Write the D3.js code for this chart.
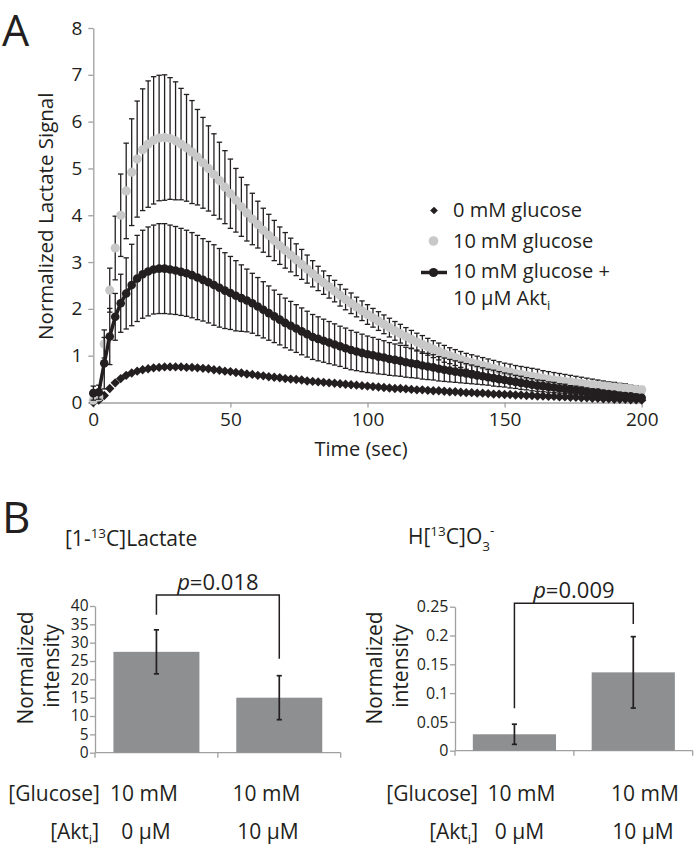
<!DOCTYPE html>
<html><head><meta charset="utf-8">
<script src="https://cdn.jsdelivr.net/npm/d3@7"></script>
<style>
body{margin:0;background:#fff}
svg{display:block}
text{font-family:'Open Sans',sans-serif;fill:#231f20}
</style>
</head><body>
<svg id="c" width="694" height="851"></svg>
<script>
// ---------- DATA: panel A ----------
const times = [0,2,4,6,8,10,12,14,16,18,20,22,24,26,28,30,32,34,36,38,40,42,44,46,48,50,52,54,56,58,60,62,64,66,68,70,72,74,76,78,80,82,84,86,88,90,92,94,96,98,100,102,104,106,108,110,112,114,116,118,120,122,124,126,128,130,132,134,136,138,140,142,144,146,148,150,152,154,156,158,160,162,164,166,168,170,172,174,176,178,180,182,184,186,188,190,192,194,196,198,200];
const glucose0 = [0.00,0.05,0.15,0.30,0.42,0.51,0.58,0.63,0.67,0.70,
 0.72,0.74,0.75,0.76,0.76,0.76,0.76,0.75,0.75,0.74,
 0.73,0.72,0.70,0.69,0.67,0.66,0.64,0.63,0.61,0.60,
 0.58,0.57,0.55,0.54,0.53,0.51,0.50,0.49,0.48,0.46,
 0.45,0.44,0.43,0.42,0.41,0.40,0.39,0.38,0.37,0.36,
 0.35,0.34,0.33,0.32,0.31,0.30,0.30,0.29,0.28,0.27,
 0.27,0.26,0.25,0.25,0.24,0.23,0.23,0.22,0.21,0.21,
 0.20,0.20,0.19,0.18,0.18,0.17,0.17,0.16,0.16,0.15,
 0.15,0.14,0.14,0.13,0.13,0.12,0.12,0.11,0.11,0.10,
 0.10,0.09,0.09,0.08,0.08,0.07,0.07,0.07,0.06,0.06,
 0.05];
const glucose10 = [0.05,0.12,1.25,2.40,3.30,4.00,4.52,4.92,5.20,5.40,
 5.52,5.60,5.65,5.66,5.64,5.59,5.52,5.44,5.35,5.24,
 5.12,5.00,4.87,4.74,4.60,4.46,4.32,4.18,4.05,3.92,
 3.80,3.68,3.57,3.46,3.35,3.25,3.15,3.05,2.95,2.85,
 2.75,2.65,2.56,2.47,2.38,2.29,2.20,2.12,2.04,1.96,
 1.88,1.81,1.74,1.67,1.60,1.53,1.47,1.41,1.35,1.29,
 1.24,1.19,1.14,1.09,1.04,1.00,0.96,0.92,0.88,0.85,
 0.82,0.79,0.76,0.73,0.70,0.67,0.65,0.62,0.60,0.58,
 0.56,0.54,0.52,0.50,0.48,0.47,0.45,0.44,0.42,0.41,
 0.39,0.38,0.36,0.35,0.34,0.33,0.32,0.31,0.29,0.28,
 0.27];
const glucose10Err = [0.03,0.08,0.30,0.47,0.68,0.88,1.02,1.14,1.24,1.30,
 1.35,1.36,1.34,1.34,1.30,1.26,1.19,1.14,1.10,1.02,
 0.97,0.91,0.87,0.82,0.78,0.74,0.68,0.63,0.60,0.55,
 0.50,0.47,0.45,0.43,0.40,0.38,0.36,0.34,0.32,0.30,
 0.28,0.26,0.25,0.24,0.23,0.23,0.22,0.22,0.21,0.21,
 0.21,0.20,0.20,0.20,0.20,0.20,0.20,0.19,0.19,0.19,
 0.19,0.18,0.18,0.18,0.18,0.17,0.17,0.17,0.17,0.17,
 0.17,0.17,0.17,0.17,0.17,0.17,0.17,0.17,0.17,0.17,
 0.17,0.17,0.16,0.16,0.16,0.15,0.15,0.14,0.14,0.13,
 0.13,0.12,0.12,0.11,0.10,0.10,0.09,0.09,0.08,0.08,
 0.07];
const glucoseAkt = [0.20,0.22,0.84,1.41,1.83,2.12,2.33,2.51,2.65,2.74,
 2.80,2.84,2.86,2.86,2.84,2.82,2.79,2.76,2.72,2.67,
 2.62,2.57,2.51,2.45,2.39,2.34,2.28,2.23,2.18,2.12,
 2.05,1.98,1.91,1.84,1.77,1.70,1.64,1.58,1.52,1.46,
 1.40,1.36,1.32,1.28,1.24,1.20,1.16,1.12,1.09,1.06,
 1.03,1.01,0.98,0.96,0.93,0.91,0.89,0.86,0.84,0.82,
 0.79,0.77,0.75,0.72,0.70,0.68,0.66,0.64,0.62,0.60,
 0.58,0.56,0.54,0.52,0.50,0.48,0.46,0.44,0.42,0.40,
 0.38,0.36,0.35,0.33,0.32,0.30,0.29,0.27,0.26,0.25,
 0.23,0.22,0.21,0.19,0.18,0.17,0.15,0.14,0.13,0.11,
 0.10];
const glucoseAktErr = [0.15,0.15,0.55,0.60,0.50,0.62,0.76,0.87,0.92,0.94,
 0.95,0.95,0.96,0.96,0.95,0.94,0.93,0.92,0.91,0.90,
 0.88,0.87,0.86,0.84,0.81,0.78,0.75,0.71,0.67,0.64,
 0.62,0.60,0.58,0.56,0.54,0.53,0.52,0.51,0.50,0.49,
 0.48,0.47,0.46,0.45,0.44,0.43,0.43,0.42,0.41,0.40,
 0.39,0.38,0.37,0.36,0.35,0.34,0.33,0.32,0.31,0.30,
 0.29,0.28,0.27,0.26,0.25,0.24,0.23,0.22,0.21,0.20,
 0.19,0.18,0.17,0.17,0.16,0.15,0.15,0.14,0.14,0.13,
 0.13,0.12,0.12,0.11,0.11,0.10,0.10,0.09,0.09,0.08,
 0.08,0.07,0.07,0.07,0.06,0.06,0.06,0.05,0.05,0.05,
 0.04];
const xTicksA = [0,50,100,150,200];
const yTicksA = [0,1,2,3,4,5,6,7,8];
const legendLabels = ["0 mM glucose","10 mM glucose","10 mM glucose +"];

// ---------- DATA: panel B ----------
const conditions = ["ctrl","akti"];
const lactateMeans = [27.5, 15.0];
const lactateErr = [6.0, 6.0];
const lactateTicks = [0,5,10,15,20,25,30,35,40];
const bicarbMeans = [0.0285, 0.136];
const bicarbErr = [0.0175, 0.062];
const bicarbTicks = [0,0.05,0.1,0.15,0.2,0.25];
const bicarbTickLabels = ["0","0.05","0.1","0.15","0.2","0.25"];
const glucoseRow = ["10 mM","10 mM"];
const aktRow = ["0 \u03bcM","10 \u03bcM"];
const pLactate = "0.018", pBicarb = "0.009";

// ---------- DRAW ----------
const ink = "#231f20", axisGray = "#a0a0a0", dotGray = "#c8c8c8", barGray = "#8e8f91";
const svg = d3.select("#c");

function styleAxis(g, fs){
  g.select(".domain").attr("stroke", axisGray).attr("stroke-width",1.3);
  g.selectAll(".tick line").attr("stroke", axisGray).attr("stroke-width",1.3);
  g.selectAll(".tick text").attr("font-size", fs).attr("fill", ink).attr("font-family","'Open Sans',sans-serif");
}

// Panel letters
svg.append("text").attr("x",2).attr("y",46).attr("font-size",43).text("A");
svg.append("text").attr("x",2).attr("y",533).attr("font-size",44).text("B");

// Panel A
const xA = d3.scaleLinear().domain([0,200]).range([93.3,641.7]);
const yA = d3.scaleLinear().domain([0,8]).range([402.5,28]);
const gA = svg.append("g");

gA.append("g").attr("transform",`translate(0,${yA(0)})`)
  .call(d3.axisBottom(xA).tickValues(xTicksA).tickSize(5).tickSizeOuter(0).tickPadding(5))
  .call(g=>styleAxis(g,19));
gA.append("g").attr("transform",`translate(${xA(0)},0)`)
  .call(d3.axisLeft(yA).tickValues(yTicksA).tickSize(5).tickSizeOuter(0).tickPadding(6))
  .call(g=>styleAxis(g,19));

gA.append("text").attr("transform",`translate(53,${(yA(0)+yA(8))/2+1}) rotate(-90)`)
  .attr("text-anchor","middle").attr("font-size",20.5).text("Normalized Lactate Signal");
gA.append("text").attr("x",361).attr("y",456).attr("text-anchor","middle").attr("font-size",20).text("Time (sec)");

function errorBars(g, means, errs){
  const cap = 2.7;
  const eg = g.append("g").attr("stroke", ink).attr("stroke-width",1.3).attr("fill","none");
  times.forEach((t,i)=>{
    const x = xA(t), y1 = yA(means[i]+errs[i]), y0 = yA(Math.max(0,means[i]-errs[i]));
    eg.append("line").attr("x1",x).attr("x2",x).attr("y1",y0).attr("y2",y1);
    eg.append("line").attr("x1",x-cap).attr("x2",x+cap).attr("y1",y1).attr("y2",y1);
    eg.append("line").attr("x1",x-cap).attr("x2",x+cap).attr("y1",y0).attr("y2",y0);
  });
}

// series 1: 0 mM glucose (diamonds)
const diamond = d3.symbol().type(d3.symbolSquare).size(44);
gA.append("g").selectAll("path").data(times).join("path")
  .attr("d", diamond)
  .attr("transform",(t,i)=>`translate(${xA(t)},${yA(glucose0[i])}) rotate(45)`)
  .attr("fill", ink);

// series 2: 10 mM glucose (gray dots)
errorBars(gA, glucose10, glucose10Err);
gA.append("g").selectAll("circle").data(times).join("circle")
  .attr("cx",t=>xA(t)).attr("cy",(t,i)=>yA(glucose10[i])).attr("r",4.6).attr("fill",dotGray);

// series 3: 10 mM glucose + Akt_i (black line + dots)
errorBars(gA, glucoseAkt, glucoseAktErr);
gA.append("path").datum(times)
  .attr("d", d3.line().x(t=>xA(t)).y((t,i)=>yA(glucoseAkt[i])))
  .attr("fill","none").attr("stroke",ink).attr("stroke-width",3.5);
gA.append("g").selectAll("circle").data(times).join("circle")
  .attr("cx",t=>xA(t)).attr("cy",(t,i)=>yA(glucoseAkt[i])).attr("r",4.3).attr("fill",ink);

// legend
const lg = gA.append("g");
lg.append("path").attr("d",d3.symbol().type(d3.symbolSquare).size(30)()).attr("transform","translate(434,210.5) rotate(45)").attr("fill",ink);
lg.append("text").attr("x",453).attr("y",216.5).attr("font-size",20).text(legendLabels[0]);
lg.append("circle").attr("cx",433.5).attr("cy",241).attr("r",4.8).attr("fill",dotGray);
lg.append("text").attr("x",453).attr("y",247.5).attr("font-size",20).text(legendLabels[1]);
lg.append("line").attr("x1",421).attr("x2",447).attr("y1",272.5).attr("y2",272.5).attr("stroke",ink).attr("stroke-width",3.5);
lg.append("circle").attr("cx",433.5).attr("cy",272.5).attr("r",4.6).attr("fill",ink);
lg.append("text").attr("x",453).attr("y",278).attr("font-size",20).text(legendLabels[2]);
const l4 = lg.append("text").attr("x",453).attr("y",305).attr("font-size",20);
l4.append("tspan").text("10 \u03bcM Akt");
l4.append("tspan").attr("font-size",13).attr("dy",5).text("i");

// Panel B helper
function barPanel(o){
  const g = svg.append("g");
  const x = d3.scaleBand().domain(conditions).range(o.xr).paddingInner(0.3).paddingOuter(0.15);
  const y = d3.scaleLinear().domain(o.domain).range(o.yr);
  g.append("g").attr("transform",`translate(${o.xr[0]},0)`)
    .call(d3.axisLeft(y).tickValues(o.ticks).tickFormat((d,i)=>o.tickLabels[i]).tickSize(5).tickSizeOuter(0).tickPadding(1.5))
    .call(a=>styleAxis(a,o.tickFont));
  g.append("line").attr("x1",o.xr[0]).attr("x2",o.xr[1]).attr("y1",y(0)).attr("y2",y(0)).attr("stroke",axisGray).attr("stroke-width",1.3);
  const bounds = [o.xr[0], (x(conditions[0])+x.bandwidth()+x(conditions[1]))/2, o.xr[1]];
  bounds.forEach(b=>g.append("line").attr("x1",b).attr("x2",b).attr("y1",y(0)).attr("y2",y(0)+5).attr("stroke",axisGray).attr("stroke-width",1.3));
  g.selectAll("rect").data(conditions).join("rect")
    .attr("x",c=>x(c)).attr("width",x.bandwidth())
    .attr("y",(c,i)=>y(o.means[i])).attr("height",(c,i)=>y(0)-y(o.means[i]))
    .attr("fill",barGray);
  conditions.forEach((c,i)=>{
    const cx = x(c)+x.bandwidth()/2, yt = y(o.means[i]+o.errs[i]), yb = y(o.means[i]-o.errs[i]);
    g.append("line").attr("x1",cx).attr("x2",cx).attr("y1",yt).attr("y2",yb).attr("stroke",ink).attr("stroke-width",1.7);
    g.append("line").attr("x1",cx-2.6).attr("x2",cx+2.6).attr("y1",yt).attr("y2",yt).attr("stroke",ink).attr("stroke-width",1.7);
    g.append("line").attr("x1",cx-2.6).attr("x2",cx+2.6).attr("y1",yb).attr("y2",yb).attr("stroke",ink).attr("stroke-width",1.7);
  });
  const c0 = x(conditions[0])+x.bandwidth()/2, c1 = x(conditions[1])+x.bandwidth()/2;
  const l0 = y(o.means[0]+o.errs[0]) - o.gap[0], l1 = y(o.means[1]+o.errs[1]) - o.gap[1];
  g.append("path").attr("d",`M${c0},${l0}V${o.bracketY}H${c1}V${l1}`).attr("fill","none").attr("stroke",ink).attr("stroke-width",1.5);
  const pt = g.append("text").attr("x",(c0+c1)/2).attr("y",o.bracketY-5).attr("text-anchor","middle").attr("font-size",22);
  pt.append("tspan").attr("font-style","italic").text("p");
  pt.append("tspan").text("="+o.p);
  const yl = g.append("g").attr("font-size",21);
  yl.append("text").attr("transform",`translate(${o.labX[0]},668) rotate(-90)`).attr("text-anchor","middle").text("Normalized");
  yl.append("text").attr("transform",`translate(${o.labX[1]},666) rotate(-90)`).attr("text-anchor","middle").text("intensity");
  const r1 = g.append("g").attr("font-size",21);
  r1.append("text").attr("x",o.rowLabelX).attr("y",801).attr("text-anchor","end").text("[Glucose]");
  r1.append("text").attr("x",o.aktLabelX).attr("y",839).attr("text-anchor","end").call(t=>{
    t.append("tspan").text("[Akt");
    t.append("tspan").attr("font-size",13).attr("dy",5).text("i");
    t.append("tspan").attr("dy",-5).text("]");
  });
  glucoseRow.forEach((s,i)=>r1.append("text").attr("x",o.col1[i]).attr("y",801).attr("text-anchor","middle").text(s));
  aktRow.forEach((s,i)=>r1.append("text").attr("x",o.col2[i]).attr("y",839).attr("text-anchor","middle").text(s));
  return g;
}

barPanel({xr:[95,340.7], yr:[752.7,606], domain:[0,40], ticks:lactateTicks, tickLabels:lactateTicks.map(String), tickFont:15.5,
  means:lactateMeans, errs:lactateErr, gap:[15,17], bracketY:595, p:pLactate, labX:[33,58.5],
  rowLabelX:100, aktLabelX:99, col1:[144,266.5], col2:[146,268]});
barPanel({xr:[455,692.7], yr:[750.7,606.7], domain:[0,0.25], ticks:bicarbTicks, tickLabels:bicarbTickLabels, tickFont:16,
  means:bicarbMeans, errs:bicarbErr, gap:[16,12.7], bracketY:603.3, p:pBicarb, labX:[381.5,407.5],
  rowLabelX:478, aktLabelX:478, col1:[521.5,645], col2:[519.5,643]});

// panel B titles
const t1 = svg.append("text").attr("x",65).attr("y",546).attr("font-size",21);
t1.append("tspan").text("[1-");
t1.append("tspan").attr("font-size",13.5).attr("dy",-8.5).text("13");
t1.append("tspan").attr("dy",8.5).text("C]Lactate");
const t2 = svg.append("text").attr("x",408).attr("y",544).attr("font-size",21);
t2.append("tspan").text("H[");
t2.append("tspan").attr("font-size",13.5).attr("dy",-8.5).text("13");
t2.append("tspan").attr("dy",8.5).text("C]O");
t2.append("tspan").attr("font-size",13.5).attr("dy",6.5).text("3");
t2.append("tspan").attr("font-size",13.5).attr("dy",-15.5).text("-");
</script>
</body></html>
